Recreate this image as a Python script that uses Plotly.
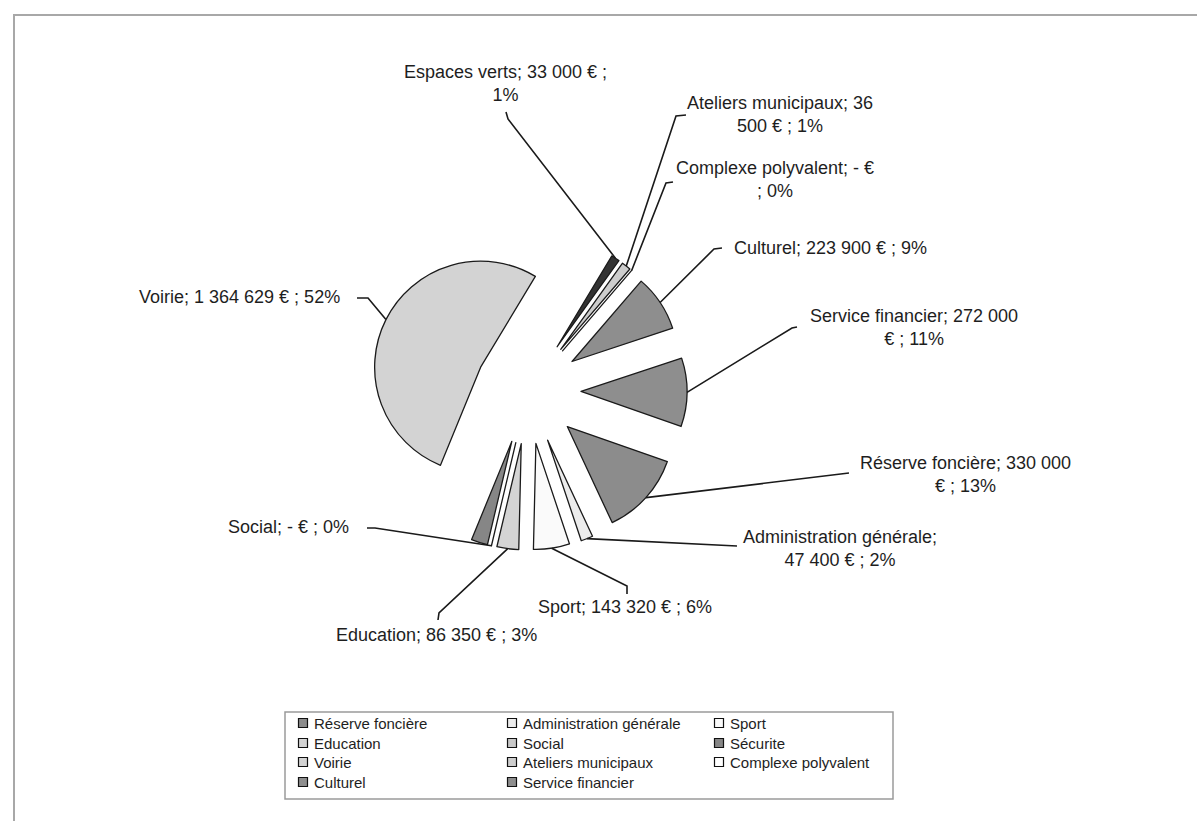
import math
import plotly.graph_objects as go

# ---------------- data ----------------
categories = ["Réserve foncière", "Administration générale", "Sport", "Education",
              "Social", "Sécurite", "Voirie", "Espaces verts", "Ateliers municipaux",
              "Complexe polyvalent", "Culturel", "Service financier"]
values = [330000, 47400, 143320, 86350, 0, 65000, 1364629, 33000, 36500, 0, 223900, 272000]
percent_labels = [13, 2, 6, 3, 0, None, 52, 1, 1, 0, 9, 11]
colors = ["#8c8c8c", "#ececec", "#fafafa", "#d4d4d4", "#c8c8c8", "#868686",
          "#d3d3d3", "#333333", "#cdcdcd", "#ffffff", "#8e8e8e", "#8e8e8e"]
legend_labels = ["Réserve foncière", "Administration générale", "Sport",
                 "Education", "Social", "Sécurite",
                 "Voirie", "Ateliers municipaux", "Complexe polyvalent",
                 "Culturel", "Service financier"]

# ---------------- layout constants ----------------
W, H = 1197, 821
CX, CY = 528, 391          # pie centre (px)
BOX = 318                  # pie domain box (px)
PULL = 0.5
ROT = 109.3                # start angle of first slice (deg, clockwise from 12 o'clock)
FONT = "Liberation Sans, Arial, sans-serif"
TXT = "#1e1e1e"

# label placement: centre (px), words on first line (None = one line), leader points from label to elbow
label_layout = {
    "Espaces verts":           (505, 83.5, 6, [(506, 112), (508, 119)]),
    "Ateliers municipaux":     (780, 114.5, 3, [(686, 115), (676, 116)]),
    "Complexe polyvalent":     (775, 179.5, 4, [(673, 182), (666, 183)]),
    "Culturel":                (830, 248, None, [(722, 248), (714, 249)]),
    "Service financier":       (914, 328, 4, [(797, 327), (792, 328)]),
    "Réserve foncière":        (965, 475, 4, [(849, 473)]),
    "Administration générale": (840, 548, 2, [(737, 546)]),
    "Sport":                   (625, 607, None, [(627, 594), (627, 586)]),
    "Education":               (436, 635, None, [(438, 620), (439, 613)]),
    "Social":                  (288, 527, None, [(367, 528), (375, 528)]),
    "Voirie":                  (239, 297, None, [(357, 298), (368, 298)]),
}

legend_cols = [303, 512, 719]
legend_rows = [723, 743, 762, 782]
legend_box = (285, 712, 893, 799)


def px(x):
    return x / W


def py(y):
    return 1 - y / H


def fmt_value(v):
    return "-" if v == 0 else f"{v:,}".replace(",", " ")


fig = go.Figure()
fig.add_trace(go.Pie(
    labels=categories,
    values=values,
    sort=False,
    direction="clockwise",
    rotation=ROT,
    pull=PULL,
    textinfo="none",
    textposition="none",
    marker=dict(colors=colors, line=dict(color="#1a1a1a", width=1.3)),
    domain=dict(x=[px(CX - BOX / 2), px(CX + BOX / 2)],
                y=[py(CY + BOX / 2), py(CY - BOX / 2)]),
    showlegend=False,
    hoverinfo="label+value+percent",
))

# geometry of slices (same as plotly's pie) for leader line anchors
R = BOX / (2 * (1 + PULL))
total = sum(values)
cum = 0.0
anchors = {}
for name, v in zip(categories, values):
    a0 = ROT + 360 * cum / total
    cum += v
    a1 = ROT + 360 * cum / total
    mid = math.radians((a0 + a1) / 2)
    d = R * (1 + PULL)
    anchors[name] = (CX + d * math.sin(mid), CY - d * math.cos(mid))

annotations = []
shapes = []

for name, v, pct in zip(categories, values, percent_labels):
    if name not in label_layout or pct is None:
        continue
    lx, ly, nfirst, pts = label_layout[name]
    full = f"{name}; {fmt_value(v)} € ; {pct}%"
    words = full.split(" ")
    text = full if nfirst is None else " ".join(words[:nfirst]) + "<br>" + " ".join(words[nfirst:])
    annotations.append(dict(x=px(lx), y=py(ly), xref="paper", yref="paper", text=text,
                            showarrow=False, xanchor="center", yanchor="middle", align="center",
                            font=dict(family=FONT, size=18, color=TXT)))
    ax, ay = anchors[name]
    path_pts = pts + [(ax, ay)]
    path = "M " + " L ".join(f"{px(x):.5f},{py(y):.5f}" for x, y in path_pts)
    shapes.append(dict(type="path", path=path, xref="paper", yref="paper",
                       line=dict(color="#1a1a1a", width=1.6)))

# legend
for i, lab in enumerate(legend_labels):
    xi = legend_cols[i % 3]
    yi = legend_rows[i // 3]
    col = colors[categories.index(lab)]
    shapes.append(dict(type="rect", xref="paper", yref="paper",
                       x0=px(xi - 4.5), x1=px(xi + 4.5), y0=py(yi + 4.5), y1=py(yi - 4.5),
                       fillcolor=col, line=dict(color="#111111", width=1.2)))
    annotations.append(dict(x=px(xi + 9), y=py(yi), xref="paper", yref="paper", text=lab,
                            showarrow=False, xanchor="left", yanchor="middle",
                            font=dict(family=FONT, size=15, color=TXT)))

bx0, by0, bx1, by1 = legend_box
shapes.append(dict(type="rect", xref="paper", yref="paper",
                   x0=px(bx0), x1=px(bx1), y0=py(by1), y1=py(by0),
                   line=dict(color="#9a9a9a", width=1.5)))
# chart frame
shapes.append(dict(type="rect", xref="paper", yref="paper",
                   x0=px(14), x1=px(1210), y0=py(835), y1=py(15),
                   line=dict(color="#a8a8a8", width=2)))

fig.update_layout(
    width=W, height=H,
    margin=dict(l=0, r=0, t=0, b=0),
    paper_bgcolor="white",
    plot_bgcolor="white",
    showlegend=False,
    annotations=annotations,
    shapes=shapes,
)

fig.write_html("out.html",
               config={"displayModeBar": False},
               post_script="document.body.style.margin='0';document.body.style.overflow='hidden';")
